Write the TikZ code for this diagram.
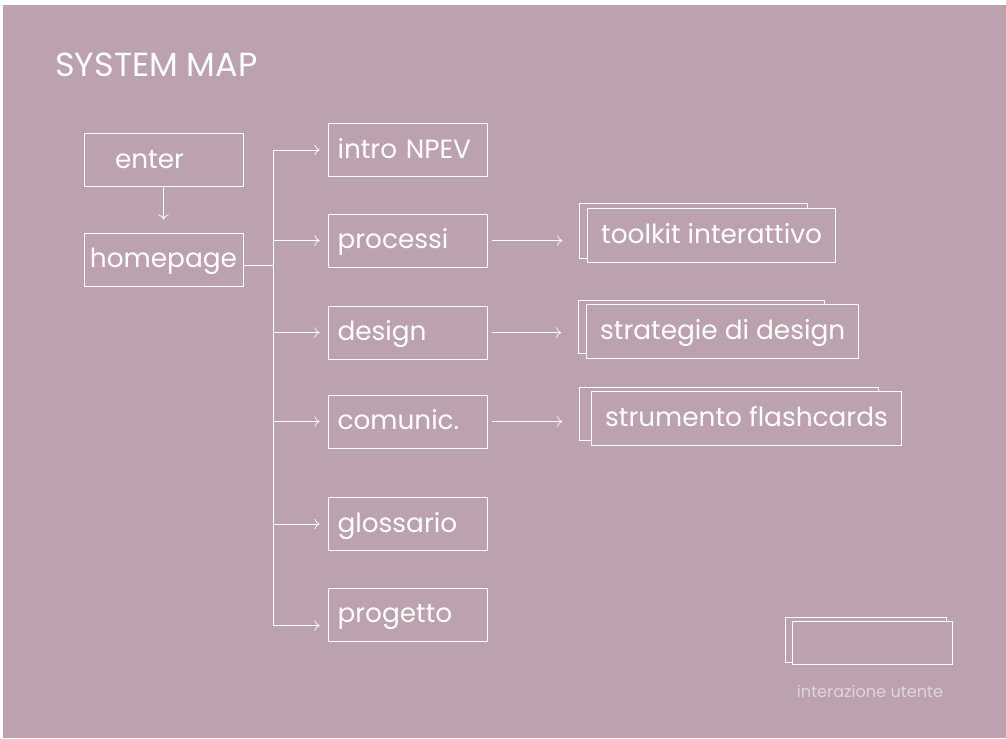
\documentclass[tikz,border=0pt]{standalone}
\usepackage{fontspec}
\setmainfont{Poppins}
\usetikzlibrary{calc}
\usetikzlibrary{positioning}
\usetikzlibrary{arrows.meta}
\definecolor{mauve}{RGB}{188,161,175}
\pgfdeclarelayer{back}
\pgfsetlayers{back,main}
\tikzset{every picture/.style={line width=0.8pt}}

\begin{document}
\begin{tikzpicture}[x=0.02cm, y=-0.02cm,
  box/.style={draw=white, fill=mauve, text=white, font=\fontsize{15}{18}\selectfont, minimum height=1.06cm, text height=0.48cm, text depth=0.15cm},
  page/.style={box, minimum width=3.18cm, text width=2.8cm, inner xsep=0.19cm, align=left},
  card/.style={box, minimum height=1.08cm, inner xsep=0.27cm, anchor=west},
  arr/.style={draw=white, -{To[length=3pt, width=6pt]}}]
\useasboundingbox (0,0) rectangle (1006,738);
\begin{pgfonlayer}{back}
  \fill[white] (0,0) rectangle (1006,738);
  \fill[mauve] (3,5) rectangle (1006,738);
\end{pgfonlayer}

\node (title) at (55,76) [anchor=base west, inner sep=0, text=white, font=\fontsize{19}{22}\selectfont] {SYSTEM MAP};

% entry
\node (home) at (163.5,259.5) [box, minimum width=3.18cm] {homepage};
\node (enter) at ($(home)+(0,-99.5)$) [page, inner xsep=0.62cm, text width=1.94cm] {enter};

% main sections
\node (intro) at ($(home)+(244,-109.5)$) [page] {intro NPEV};
\node (proc) at ($(intro)+(0,90.5)$) [page] {processi};
\node (design) at ($(intro)+(0,182.5)$) [page] {design};
\node (comunic) at ($(intro)+(0,271.5)$) [page] {comunic.};
\node (gloss) at ($(intro)+(0,374)$) [page] {glossario};
\node (prog) at ($(intro)+(0,464.5)$) [page] {progetto};

% tools
\node (tool) at ($(proc.east)+(100,-5.5)$) [card] {toolkit interattivo};
\node (strat) at ($(design.east)+(99,-1)$) [card] {strategie di design};
\node (flash) at ($(comunic.east)+(104,-3)$) [card] {strumento flashcards};

% legend
\node (legend) at (872,643) [box, minimum width=3.2cm, minimum height=0.84cm] {};
\node (legendlbl) at ($(legend.south)+(-2,33)$) [anchor=base, inner sep=0, text=white, opacity=0.55, font=\fontsize{9.2}{11}\selectfont] {interazione utente};

\begin{pgfonlayer}{back}
  \foreach \n/\dl/\dr/\dy in {tool/8/28/4, strat/8/35/6, flash/12/23/6, legend/6/6/3}
    \draw[white] ($(\n.north west)+(-\dl,-4)$) rectangle ($(\n.south east)+(-\dr,-\dy)$);
\end{pgfonlayer}

\coordinate (trunk) at ($(home.east)+(30,6)$);
\coordinate (progin) at ($(prog.west)+(0,11)$);

\draw[arr, shorten >=0.26cm] (enter) -- (home);
\draw[white] (trunk -| home.east) -- (trunk);
\draw[white] (trunk |- intro) -- (trunk |- progin);
\foreach \n in {intro,proc,design,comunic,gloss}
  \draw[arr, shorten >=0.16cm] (trunk |- \n) -- (\n);
\draw[arr, shorten >=0.16cm] (trunk |- progin) -- (progin);

\draw[arr, shorten <=0.1cm, shorten >=0.5cm] (proc) -- (proc -| tool.west);
\draw[arr, shorten <=0.1cm, shorten >=0.5cm] (design) -- (design -| strat.west);
\draw[arr, shorten <=0.1cm, shorten >=0.58cm] (comunic) -- (comunic -| flash.west);
\end{tikzpicture}
\end{document}
